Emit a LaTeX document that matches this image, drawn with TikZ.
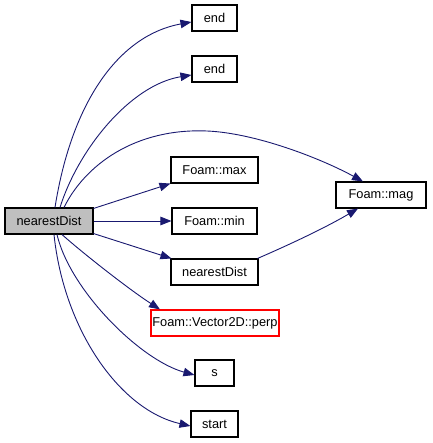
\documentclass[tikz,border=0pt]{standalone}
\usepackage{fontspec}
\setmainfont{Liberation Sans}
\usetikzlibrary{arrows.meta}
\definecolor{edgeblue}{HTML}{191970}
\definecolor{nodegray}{HTML}{BFBFBF}
\definecolor{nodered}{HTML}{FF0000}
\tikzset{
  fn/.style={draw=black, line width=1.1pt, fill=white, minimum height=26pt, inner sep=0pt,
    font=\fontsize{12.8}{15}\selectfont},
  edge/.style={draw=edgeblue, line width=0.9pt, -{Triangle[length=11pt,width=8.5pt]}}
}
\begin{document}
\begin{tikzpicture}[x=1pt,y=-1pt]
\useasboundingbox (0,0) rectangle (432,443);
\node[fn, fill=nodegray, minimum width=88pt] (A) at (49,221) {nearestDist};
\node[fn, minimum width=45pt] (e1) at (214.5,18) {end};
\node[fn, minimum width=45pt] (e2) at (214.5,69) {end};
\node[fn, minimum width=87pt] (mx) at (214.5,170) {Foam::max};
\node[fn, minimum width=85pt] (mn) at (214.5,221) {Foam::min};
\node[fn, minimum width=87pt] (nd) at (214.5,272) {nearestDist};
\node[fn, draw=nodered, minimum width=128pt] (pp) at (215,323) {Foam::Vector2D::perp};
\node[fn, minimum width=39pt] (s) at (214.5,373) {s};
\node[fn, minimum width=47pt] (st) at (214.5,424) {start};
\node[fn, minimum width=90pt] (mg) at (381,195) {Foam::mag};

\draw[edge] ([xshift=6pt]A.north) .. controls (72,100) and (120,35) .. ([yshift=-4pt]e1.west);
\draw[edge] ([xshift=11pt]A.north) .. controls (78,150) and (130,85) .. ([yshift=-6pt]e2.west);
\draw[edge] ([xshift=15pt]A.north) .. controls (85,165) and (135,128) .. (207,131)
   .. controls (255,133) and (320,158) .. ([xshift=-18pt]mg.north);
\draw[edge] ([yshift=-1pt]A.north east) -- (mx.south west);
\draw[edge] (A.east) -- (mn.west);
\draw[edge] ([yshift=1pt]A.south east) -- ([xshift=1pt]nd.north west);
\draw[edge] ([xshift=13pt]A.south) .. controls (85,255) and (130,290) .. ([xshift=-55pt]pp.north);
\draw[edge] ([xshift=8pt]A.south) .. controls (70,290) and (140,360) .. ([yshift=-2pt]s.west);
\draw[edge] ([xshift=5pt]A.south) .. controls (64,330) and (120,410) .. ([yshift=-2pt]st.west);
\draw[edge] ([xshift=-1pt]nd.north east) .. controls (300,240) and (330,225) .. ([xshift=-23pt]mg.south);
\end{tikzpicture}
\end{document}
